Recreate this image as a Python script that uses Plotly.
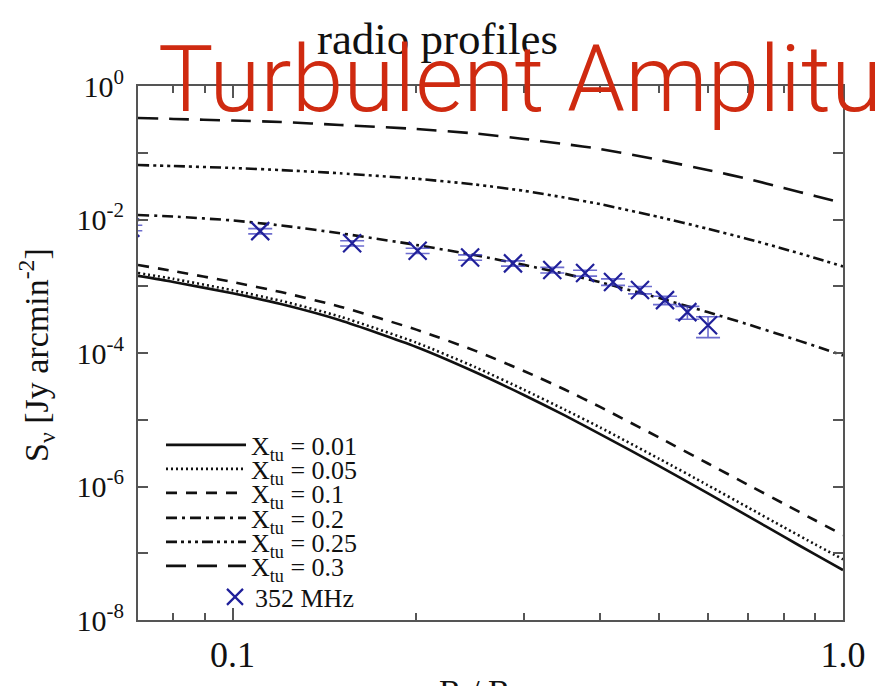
import plotly.graph_objects as go

# ---------------- data ----------------
r_grid = [0.07, 0.08, 0.1, 0.12, 0.15, 0.2, 0.25, 0.3, 0.35, 0.4, 0.5, 0.6, 0.7, 0.8, 0.9, 1.0]

s_xtu_001 = [1.43e-3, 1.16e-3, 7.83e-4, 5.40e-4, 3.09e-4, 1.23e-4, 5.15e-5, 2.35e-5, 1.16e-5,
             6.10e-6, 2.02e-6, 7.96e-7, 3.57e-7, 1.77e-7, 9.6e-8, 5.6e-8]
s_xtu_005 = [1.58e-3, 1.29e-3, 8.7e-4, 6.05e-4, 3.51e-4, 1.43e-4, 6.12e-5, 2.82e-5, 1.42e-5,
             7.67e-6, 2.60e-6, 1.05e-6, 4.82e-7, 2.45e-7, 1.36e-7, 8.1e-8]
s_xtu_010 = [2.08e-3, 1.69e-3, 1.156e-3, 8.18e-4, 4.95e-4, 2.24e-4, 1.076e-4, 5.38e-5, 2.84e-5,
             1.556e-5, 5.40e-6, 2.23e-6, 1.054e-6, 5.52e-7, 3.12e-7, 1.87e-7]
s_xtu_020 = [1.17e-2, 1.107e-2, 9.68e-3, 8.15e-3, 6.22e-3, 4.16e-3, 2.91e-3, 2.09e-3, 1.54e-3,
             1.148e-3, 6.65e-4, 4.10e-4, 2.67e-4, 1.81e-4, 1.27e-4, 9.2e-5]
s_xtu_025 = [6.55e-2, 6.32e-2, 5.92e-2, 5.50e-2, 4.92e-2, 4.08e-2, 3.34e-2, 2.69e-2, 2.13e-2,
             1.70e-2, 1.087e-2, 7.28e-3, 5.07e-3, 3.63e-3, 2.65e-3, 1.98e-3]
s_xtu_030 = [0.332, 0.321, 0.304, 0.289, 0.261, 0.227, 0.194, 0.161, 0.135,
             0.114, 0.0779, 0.0552, 0.0404, 0.0297, 0.0225, 0.0177]

obs_r = [0.068, 0.111, 0.157, 0.201, 0.245, 0.288, 0.334, 0.378, 0.42, 0.465, 0.511, 0.556, 0.601]
obs_s = [7.5e-3, 6.7e-3, 4.4e-3, 3.4e-3, 2.7e-3, 2.2e-3, 1.75e-3, 1.58e-3, 1.16e-3,
         8.8e-4, 6.2e-4, 4.1e-4, 2.6e-4]
obs_err = [7e-4, 6e-4, 4e-4, 3e-4, 2.5e-4, 2e-4, 1.7e-4, 1.6e-4, 1.3e-4, 1.1e-4, 9e-5, 9e-5, 9e-5]

model_names = ["X<sub>tu</sub> = 0.01", "X<sub>tu</sub> = 0.05", "X<sub>tu</sub> = 0.1",
               "X<sub>tu</sub> = 0.2", "X<sub>tu</sub> = 0.25", "X<sub>tu</sub> = 0.3"]
model_values = [s_xtu_001, s_xtu_005, s_xtu_010, s_xtu_020, s_xtu_025, s_xtu_030]
obs_name = "352 MHz"

x_tickvals = [0.1, 1.0]
x_ticktext = ["0.1", "1.0"]
x_minor = [0.07, 0.08, 0.09, 0.2, 0.3, 0.4, 0.5, 0.6, 0.7, 0.8, 0.9]
y_tickvals = [1, 1e-1, 1e-2, 1e-3, 1e-4, 1e-5, 1e-6, 1e-7, 1e-8]
y_ticktext = ["10<sup>0</sup>", "", "10<sup>-2</sup>", "", "10<sup>-4</sup>", "",
              "10<sup>-6</sup>", "", "10<sup>-8</sup>"]

title_text = "radio profiles"
x_title = "R / R<sub>vir</sub>"
y_title = "S<sub>ν</sub> [Jy arcmin<sup>-2</sup>]"
overlay_text = "Turbulent Amplitude"

# ---------------- styling ----------------
W, H = 875, 686
L, R, T, B = 138, 32, 86, 66
PW, PH = W - L - R, H - T - B

def px_x(px):
    return (px - L) / PW

def px_y(py):
    return (H - B - py) / PH

dashes = ["solid", "2px,3px", "11px,9px", "11px,5px,3px,5px",
          "11px,4px,3px,4px,3px,4px,3px,4px", "20px,11px"]
legend_rows = [445, 469, 493, 518, 542, 566]
serif = "Liberation Serif, Times New Roman, serif"

fig = go.Figure()
legend_ids = ["legend", "legend2", "legend3", "legend4", "legend5", "legend6", "legend7"]

for i, (name, vals) in enumerate(zip(model_names, model_values)):
    fig.add_trace(go.Scatter(
        x=r_grid, y=vals, mode="lines", name=name,
        line=dict(color="#111111", width=2.6, dash=dashes[i], shape="spline", smoothing=0.6),
        legend=legend_ids[i],
    ))

fig.add_trace(go.Scatter(
    x=obs_r, y=obs_s, mode="markers", name=obs_name,
    marker=dict(symbol="x-thin", size=18, line=dict(color="#20209a", width=2.2), color="#20209a"),
    error_y=dict(type="data", array=obs_err, visible=True, color="rgba(60,60,190,0.75)",
                 thickness=1.6, width=12),
    legend=legend_ids[6],
))

layout_legends = {}
for i, lid in enumerate(legend_ids[:6]):
    layout_legends[lid] = dict(
        x=px_x(161), y=px_y(legend_rows[i]), xanchor="left", yanchor="middle",
        bgcolor="rgba(0,0,0,0)", borderwidth=0, itemwidth=80,
        font=dict(family=serif, size=26, color="#111111"),
    )
layout_legends["legend7"] = dict(
    x=px_x(215), y=px_y(597), xanchor="left", yanchor="middle",
    bgcolor="rgba(0,0,0,0)", borderwidth=0, itemwidth=30,
    font=dict(family=serif, size=26, color="#111111"),
)

fig.update_layout(
    width=W, height=H,
    margin=dict(l=L, r=R, t=T, b=B, autoexpand=False),
    paper_bgcolor="white", plot_bgcolor="white",
    showlegend=True,
    title=dict(text=title_text, x=0.5, xref="container", xanchor="center",
               y=1 - 38 / H, yref="container", yanchor="middle",
               font=dict(family=serif, size=45, color="#111111")),
    xaxis=dict(type="log", range=[-1.1549, 0.0],
               tickvals=x_tickvals, ticktext=x_ticktext,
               ticks="inside", ticklen=12, tickwidth=1.5, tickcolor="#555",
               minor=dict(tickvals=x_minor, ticks="inside", ticklen=7, tickwidth=1.5, tickcolor="#555"),
               showline=True, linecolor="#555", linewidth=2, mirror="ticks",
               showgrid=False, zeroline=False,
               ticklabelstandoff=2,
               tickfont=dict(family=serif, size=36, color="#111111")),
    yaxis=dict(type="log", range=[-8, 0],
               tickvals=y_tickvals, ticktext=y_ticktext,
               ticks="inside", ticklen=10, tickwidth=1.5, tickcolor="#555",
               showline=True, linecolor="#555", linewidth=2, mirror="ticks",
               showgrid=False, zeroline=False,
               ticklabelstandoff=6,
               tickfont=dict(family=serif, size=30, color="#111111")),
    annotations=[
        dict(text=x_title, xref="paper", yref="paper",
             x=px_x(488), y=px_y(671), xanchor="center", yanchor="top",
             showarrow=False, font=dict(family=serif, size=34, color="#111111")),
        dict(text=y_title, xref="paper", yref="paper", textangle=-90,
             x=px_x(36), y=px_y(355), xanchor="center", yanchor="middle",
             showarrow=False, font=dict(family=serif, size=34, color="#111111")),
        dict(text=overlay_text, xref="paper", yref="paper",
             x=px_x(156), y=px_y(80), xanchor="left", yanchor="middle",
             showarrow=False,
             font=dict(family="Roboto, Liberation Sans, sans-serif", size=93,
                       weight=300, color="#CF2A10")),
    ],
    **layout_legends,
)

fig.write_html("out.html")
